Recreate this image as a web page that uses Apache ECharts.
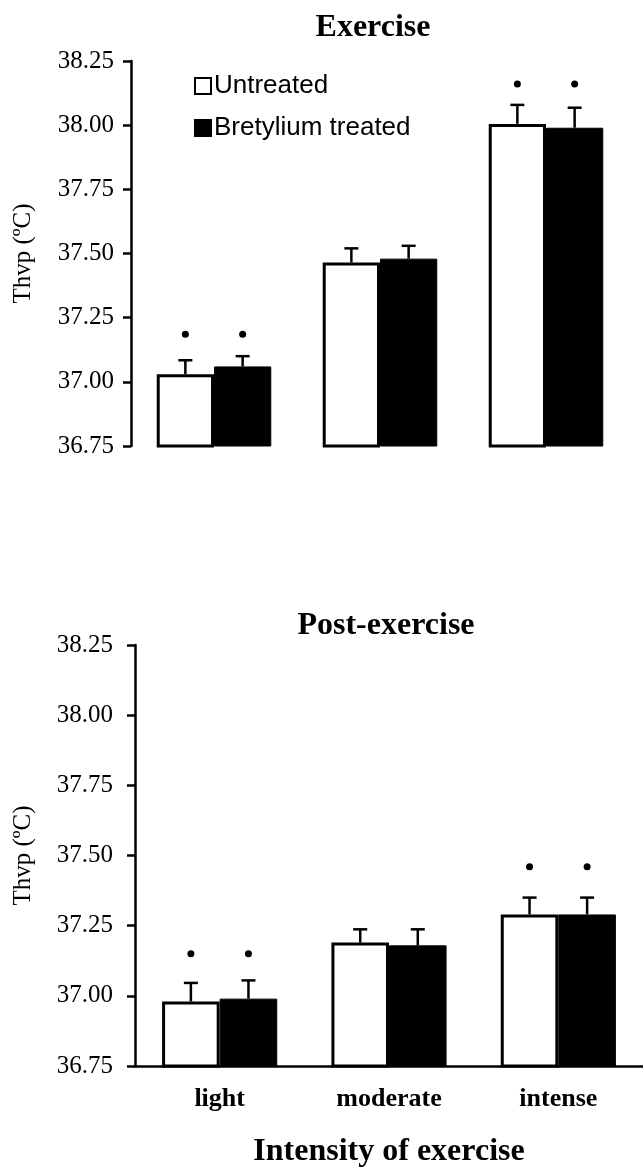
<!DOCTYPE html>
<html>
<head>
<meta charset="utf-8">
<script src="https://cdn.jsdelivr.net/npm/echarts@6/dist/echarts.min.js"></script>
<style>
html,body{margin:0;padding:0;background:#fff;}
#chart{width:643px;height:1172px;}
</style>
</head>
<body>
<div id="chart"></div>
<script>
// ---- data ----
const categories = ['light', 'moderate', 'intense'];
const seriesNames = ['Untreated', 'Bretylium treated'];
const yTicks = [36.75, 38.25, 0.25]; // min, max, interval

// Exercise panel
const exUntreated = [37.03, 37.465, 38.005];
const exUntreatedErr = [0.054, 0.055, 0.074];
const exBretylium = [37.06, 37.48, 37.99];
const exBretyliumErr = [0.04, 0.05, 0.078];
const exStars = [37.185, null, 38.16];

// Post-exercise panel
const postUntreated = [36.98, 37.19, 37.29];
const postUntreatedErr = [0.066, 0.047, 0.06];
const postBretylium = [36.99, 37.18, 37.29];
const postBretyliumErr = [0.065, 0.057, 0.06];
const postStars = [37.15, null, 37.46];

const titles = ['Exercise', 'Post-exercise'];
const yName = 'Thvp (ºC)';
const xName = 'Intensity of exercise';

// ---- styling ----
const SERIF = '"Liberation Serif", "Times New Roman", serif';
const SANS = '"Liberation Sans", Arial, sans-serif';
const gaps = [0.31, 0.32];

function errData(vals, errs, stars) {
  return vals.map((v, i) => [i, v, errs[i], stars[i] == null ? NaN : stars[i]]);
}

function errRender(side, gap) {
  return function (params, api) {
    const ci = api.value(0), v = api.value(1), e = api.value(2), s = api.value(3);
    const band = api.size([1, 0])[0];
    const bw = band * (1 - gap) / 2;
    const p0 = api.coord([ci, v]);
    const x = p0[0] + side * bw / 2;
    const yTop = api.coord([ci, v + e])[1];
    const children = [
      { type: 'line', shape: { x1: x, y1: p0[1], x2: x, y2: yTop }, style: { stroke: '#000', lineWidth: 2.5 } },
      { type: 'line', shape: { x1: x - 7, y1: yTop, x2: x + 7, y2: yTop }, style: { stroke: '#000', lineWidth: 2.5 } }
    ];
    if (!isNaN(s)) {
      const ys = api.coord([ci, s])[1];
      children.push({ type: 'circle', shape: { cx: x, cy: ys, r: 3.5 }, style: { fill: '#000' } });
    }
    return { type: 'group', children: children };
  };
}

function yAxisCfg(gridIndex, labelMargin, nameGap) {
  return {
    type: 'value', gridIndex: gridIndex,
    min: yTicks[0], max: yTicks[1], interval: yTicks[2],
    name: yName, nameLocation: 'middle', nameGap: nameGap,
    nameTextStyle: { fontFamily: SERIF, fontSize: 25, color: '#000' },
    axisLine: { show: true, lineStyle: { color: '#000', width: 2.5 } },
    axisTick: { show: true, length: 8, lineStyle: { color: '#000', width: 2.5 } },
    axisLabel: { fontFamily: SERIF, fontSize: 25, color: '#000', margin: labelMargin, formatter: v => v.toFixed(2) },
    splitLine: { show: false }
  };
}

const whiteStyle = { color: '#fff', borderColor: '#000', borderWidth: 3 };
const blackStyle = { color: '#000', borderColor: '#000', borderWidth: 1 };

const option = {
  animation: false,
  backgroundColor: '#fff',
  grid: [
    { left: 131, top: 61, width: 498, height: 385 },
    { left: 135, top: 645, width: 520, height: 421 }
  ],
  legend: {
    data: seriesNames,
    orient: 'vertical', left: 189, top: 68,
    itemWidth: 16, itemHeight: 16, itemGap: 16,
    textStyle: { fontFamily: SANS, fontSize: 26, color: '#000', padding: [0, 0, 0, -2] },
    icon: 'rect'
  },
  xAxis: [
    { type: 'category', gridIndex: 0, data: categories, show: false },
    {
      type: 'category', gridIndex: 1, data: categories,
      axisLine: { show: true, lineStyle: { color: '#000', width: 2.5 } },
      axisTick: { show: false },
      axisLabel: { fontFamily: SERIF, fontWeight: 'bold', fontSize: 26, color: '#000', margin: 20 },
      name: xName, nameLocation: 'middle', nameGap: 70,
      nameTextStyle: { fontFamily: SERIF, fontWeight: 'bold', fontSize: 32, color: '#000' }
    }
  ],
  yAxis: [yAxisCfg(0, 17, 95), yAxisCfg(1, 22, 99)],
  graphic: [
    { type: 'text', x: 373, y: 28, style: { text: titles[0], font: 'bold 32px ' + SERIF, fill: '#000', textAlign: 'center', textVerticalAlign: 'middle' } },
    { type: 'text', x: 386, y: 626, style: { text: titles[1], font: 'bold 32px ' + SERIF, fill: '#000', textAlign: 'center', textVerticalAlign: 'middle' } }
  ],
  series: [
    { name: seriesNames[0], type: 'bar', xAxisIndex: 0, yAxisIndex: 0, data: exUntreated, barGap: '0%', barCategoryGap: (gaps[0] * 100) + '%', itemStyle: whiteStyle },
    { name: seriesNames[1], type: 'bar', xAxisIndex: 0, yAxisIndex: 0, data: exBretylium, barGap: '0%', barCategoryGap: (gaps[0] * 100) + '%', itemStyle: blackStyle },
    { name: seriesNames[0], type: 'bar', xAxisIndex: 1, yAxisIndex: 1, data: postUntreated, barGap: '0%', barCategoryGap: (gaps[1] * 100) + '%', itemStyle: whiteStyle },
    { name: seriesNames[1], type: 'bar', xAxisIndex: 1, yAxisIndex: 1, data: postBretylium, barGap: '0%', barCategoryGap: (gaps[1] * 100) + '%', itemStyle: blackStyle },
    { type: 'custom', xAxisIndex: 0, yAxisIndex: 0, z: 5, data: errData(exUntreated, exUntreatedErr, exStars), renderItem: errRender(-1, gaps[0]) },
    { type: 'custom', xAxisIndex: 0, yAxisIndex: 0, z: 5, data: errData(exBretylium, exBretyliumErr, exStars), renderItem: errRender(1, gaps[0]) },
    { type: 'custom', xAxisIndex: 1, yAxisIndex: 1, z: 5, data: errData(postUntreated, postUntreatedErr, postStars), renderItem: errRender(-1, gaps[1]) },
    { type: 'custom', xAxisIndex: 1, yAxisIndex: 1, z: 5, data: errData(postBretylium, postBretyliumErr, postStars), renderItem: errRender(1, gaps[1]) }
  ]
};

const chart = echarts.init(document.getElementById('chart'), null, { renderer: 'canvas' });
chart.setOption(option);
</script>
</body>
</html>
